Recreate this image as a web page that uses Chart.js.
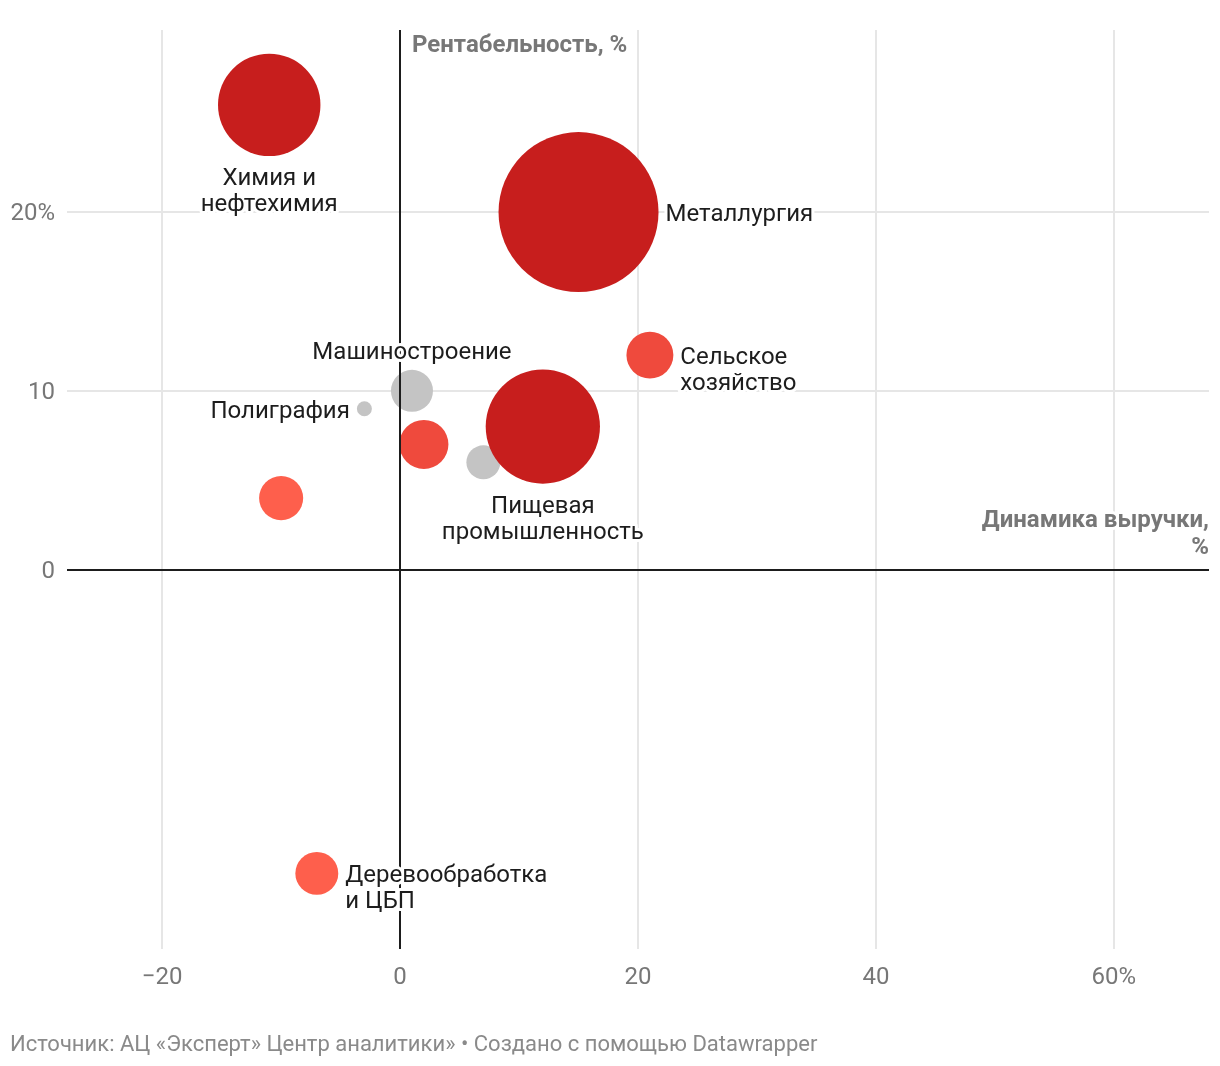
<!DOCTYPE html>
<html>
<head>
<meta charset="utf-8">
<script src="https://cdn.jsdelivr.net/npm/chart.js@4.4.1/dist/chart.umd.min.js"></script>
<style>
  body { margin: 0; background: #fff; font-family: Roboto, sans-serif; }
  #wrap { position: relative; width: 1220px; height: 1066px; }
  #footer { position: absolute; left: 10px; top: 1031px; font-size: 22px; color: #8a8a8a; white-space: nowrap; }
</style>
</head>
<body>
<div id="wrap">
  <canvas id="bubbleChart" width="1220" height="1066"></canvas>
  <div id="footer">Источник: АЦ «Эксперт» Центр аналитики» • Создано с помощью Datawrapper</div>
</div>
<script>
// data
var sectors = ['Химия и\nнефтехимия', 'Металлургия', 'Сельское\nхозяйство', 'Машиностроение', 'Полиграфия',
               null, null, 'Пищевая\nпромышленность', null, 'Деревообработка\nи ЦБП'];
var revenueGrowth = [-11, 15, 21, 1, -3, 2, 7, 12, -10, -7];   // Динамика выручки, %
var profitability = [26, 20, 12, 10, 9, 7, 6, 8, 4, -17];      // Рентабельность, %
var sizes = [41, 100, 8.6, 6.9, 0.88, 9.4, 4.5, 51, 7.6, 7.2]; // bubble size (area)
var colors = ['#c71e1d', '#c71e1d', '#ef4a3d', '#c4c4c4', '#c4c4c4', '#ef4a3d', '#c4c4c4', '#c71e1d', '#fe5f4c', '#fe5f4c'];
var labelPos = ['bottom', 'right', 'right', 'top', 'left', null, null, 'bottom', null, 'right'];

var xTicks = [-20, 0, 20, 40, 60];
var yTicks = [0, 10, 20];

function radius(size) {
    return 8 * Math.sqrt(size);
}

var points = [];
for (var i = 0; i <= sectors.length - 1; i++) {
    points.push({ x: revenueGrowth[i], y: profitability[i], r: radius(sizes[i]) });
}

var FONT = 'Roboto, sans-serif';

// zero lines over the bubbles, then labels with white halo, then axis titles
var overlay = {
    id: 'overlay',
    afterDatasetsDraw: function (chart) {
        var ctx = chart.ctx;
        var xs = chart.scales.x, ys = chart.scales.y;
        var area = chart.chartArea;
        var x0 = Math.round(xs.getPixelForValue(0)), y0 = Math.round(ys.getPixelForValue(0));

        ctx.save();
        ctx.strokeStyle = '#1d1d1d';
        ctx.lineWidth = 2;
        ctx.beginPath();
        ctx.moveTo(x0, area.top);
        ctx.lineTo(x0, area.bottom);
        ctx.moveTo(area.left, y0);
        ctx.lineTo(area.right, y0);
        ctx.stroke();

        ctx.font = '24px ' + FONT;
        ctx.lineJoin = 'round';
        ctx.textBaseline = 'middle';
        var lh = 26;
        var meta = chart.getDatasetMeta(0);
        meta.data.forEach(function (el, i) {
            if (!sectors[i]) return;
            var lines = sectors[i].split('\n');
            var r = points[i].r;
            var cx = el.x, cy = el.y + 3, tx, ty, align = 'center';
            if (labelPos[i] === 'right') { tx = cx + r + 7; ty = cy; align = 'left'; }
            else if (labelPos[i] === 'left') { tx = cx - r - 7; ty = cy; align = 'right'; }
            else if (labelPos[i] === 'bottom') { tx = cx; ty = cy + r + 20; }
            else { tx = cx; ty = cy - r - 20 - (lines.length - 1) * lh; }
            ctx.textAlign = align;
            lines.forEach(function (t, k) {
                ctx.strokeStyle = '#fff';
                ctx.lineWidth = 6;
                ctx.strokeText(t, tx, ty + k * lh);
                ctx.fillStyle = '#1d1d1d';
                ctx.fillText(t, tx, ty + k * lh);
            });
        });

        ctx.font = 'bold 24px ' + FONT;
        ctx.fillStyle = '#777';
        ctx.textAlign = 'left';
        ctx.strokeStyle = '#fff';
        ctx.lineWidth = 6;
        ctx.strokeText('Рентабельность, %', x0 + 12, area.top + 16);
        ctx.fillText('Рентабельность, %', x0 + 12, area.top + 16);
        ctx.textAlign = 'right';
        ctx.strokeText('Динамика выручки,', area.right, y0 - 49);
        ctx.fillText('Динамика выручки,', area.right, y0 - 49);
        ctx.strokeText('%', area.right, y0 - 22);
        ctx.fillText('%', area.right, y0 - 22);
        ctx.restore();
    }
};

new Chart(document.getElementById('bubbleChart'), {
    type: 'bubble',
    data: {
        datasets: [{
            data: points,
            backgroundColor: colors,
            borderWidth: 0,
            hoverBorderWidth: 0
        }]
    },
    options: {
        responsive: false,
        animation: false,
        events: [],
        layout: { autoPadding: false, padding: { top: 30, right: 11, left: 0, bottom: 0 } },
        plugins: { legend: { display: false }, tooltip: { enabled: false } },
        scales: {
            x: {
                type: 'linear',
                min: -28,
                max: 68,
                afterFit: function (s) { s.height = 117; },
                afterBuildTicks: function (s) { s.ticks = xTicks.map(function (v) { return { value: v }; }); },
                grid: { color: '#e6e6e6', lineWidth: 2, drawTicks: false },
                border: { display: false },
                ticks: {
                    padding: 15,
                    color: '#777',
                    font: { family: FONT, size: 24 },
                    callback: function (v) {
                        if (v < 0) return '\u2212' + Math.abs(v);
                        return v === 60 ? v + '%' : String(v);
                    }
                }
            },
            y: {
                type: 'linear',
                min: -21.23,
                max: 30.19,
                afterFit: function (s) { s.width = 67; },
                afterBuildTicks: function (s) { s.ticks = yTicks.map(function (v) { return { value: v }; }); },
                grid: { color: '#e6e6e6', lineWidth: 2, drawTicks: false },
                border: { display: false },
                ticks: {
                    padding: 12,
                    labelOffset: 2,
                    color: '#777',
                    font: { family: FONT, size: 24 },
                    callback: function (v) { return v === 20 ? v + '%' : String(v); }
                }
            }
        }
    },
    plugins: [overlay]
});
</script>
</body>
</html>
